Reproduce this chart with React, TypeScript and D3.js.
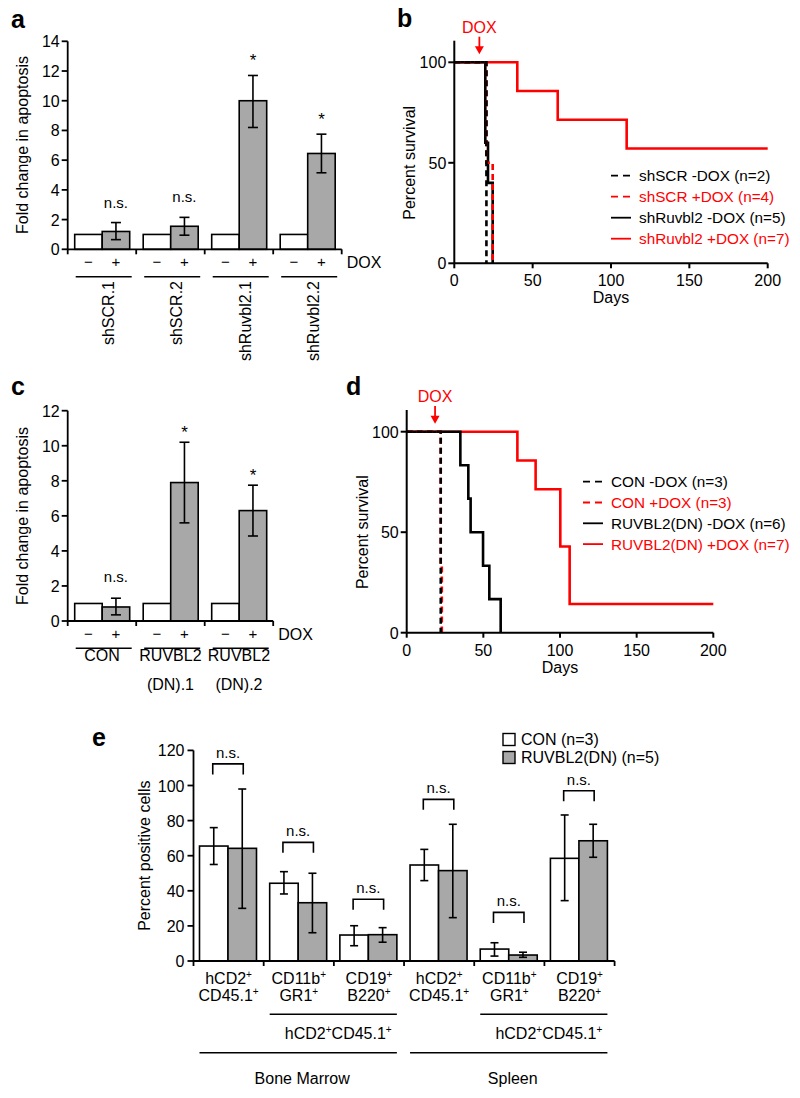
import React from 'react';
import * as d3 from 'd3';

const FONT = '"Liberation Sans", Arial, Helvetica, sans-serif';
const RED = '#ff0000';
const GRAY = '#a8a8a8';

// ---------- Panel a ----------
const aGroups = ['shSCR.1', 'shSCR.2', 'shRuvbl2.1', 'shRuvbl2.2'];
const aMinusDox = [1, 1, 1, 1];
const aPlusDox = [1.2, 1.55, 10.0, 6.45];
const aPlusLow = [0.65, 0.95, 8.2, 5.15];
const aPlusHigh = [1.8, 2.15, 11.7, 7.75];
const aSignif = ['n.s.', 'n.s.', '*', '*'];
const aYTicks = [0, 2, 4, 6, 8, 10, 12, 14];

// ---------- Panel c ----------
const cGroups = ['CON', 'RUVBL2|(DN).1', 'RUVBL2|(DN).2'];
const cMinusDox = [1, 1, 1];
const cPlusDox = [0.8, 7.9, 6.3];
const cPlusLow = [0.35, 5.6, 4.85];
const cPlusHigh = [1.3, 10.2, 7.75];
const cSignif = ['n.s.', '*', '*'];
const cYTicks = [0, 2, 4, 6, 8, 10, 12];

const doxLevels = ['\u2212', '+'];

// ---------- Panel b ----------
const bNames = ['shSCR -DOX (n=2)', 'shSCR +DOX (n=4)', 'shRuvbl2 -DOX (n=5)', 'shRuvbl2 +DOX (n=7)'];
const bColors = ['black', RED, 'black', RED];
const bDashed = [true, true, false, false];
const bShScrMinus: [number, number][] = [[0, 100], [20.5, 0]];
const bShScrPlus: [number, number][] = [[0, 100], [20.5, 50], [24.5, 0]];
const bShRuvMinus: [number, number][] = [[0, 100], [19.8, 60], [21.5, 40], [24.5, 0]];
const bShRuvPlus: [number, number][] = [[0, 100], [40.2, 85.7], [66, 71.4], [110, 57.1], [200, 57.1]];
const bDoxDay = 16;

// ---------- Panel d ----------
const dNames = ['CON -DOX (n=3)', 'CON +DOX (n=3)', 'RUVBL2(DN) -DOX (n=6)', 'RUVBL2(DN) +DOX (n=7)'];
const dColors = ['black', RED, 'black', RED];
const dDashed = [true, true, false, false];
const dConMinus: [number, number][] = [[0, 100], [22.2, 0]];
const dConPlus: [number, number][] = [[0, 100], [22.2, 33.3], [22.9, 0]];
const dDnMinus: [number, number][] = [[0, 100], [35, 83.3], [40.2, 66.7], [41.7, 50], [49.8, 33.3], [53.9, 16.7], [61.3, 0]];
const dDnPlus: [number, number][] = [[0, 100], [72.2, 85.7], [84.1, 71.4], [100.2, 42.9], [106.3, 14.3], [200, 14.3]];
const dDoxDay = 18.5;

const survXTicks = [0, 50, 100, 150, 200];
const survYTicks = [0, 50, 100];

// ---------- Panel e ----------
const eCatLine1 = ['hCD2+', 'CD11b+', 'CD19+', 'hCD2+', 'CD11b+', 'CD19+'];
const eCatLine2 = ['CD45.1+', 'GR1+', 'B220+', 'CD45.1+', 'GR1+', 'B220+'];
const eCon = [65.5, 44.3, 14.8, 54.7, 6.8, 58.5];
const eConLow = [55, 38.2, 8.7, 45.8, 2.8, 34.4];
const eConHigh = [76, 50.9, 20.1, 63.6, 10.4, 83.2];
const eDn = [64.2, 33.2, 15, 51.5, 3.4, 68.5];
const eDnLow = [30, 16.1, 10.7, 24.7, 2.1, 59.1];
const eDnHigh = [98, 50, 19, 77.9, 5, 77.9];
const eBracket = [112.3, 67.6, 35.2, 92.1, 27.7, 97];
const eYTicks = [0, 20, 40, 60, 80, 100, 120];
const eSeries = ['CON (n=3)', 'RUVBL2(DN) (n=5)'];
const eSubset = 'hCD2+CD45.1+';
const eTissues = ['Bone Marrow', 'Spleen'];

function Sup({ s }: { s: string }) {
  const parts = s.split(/(\+)/).filter((p) => p !== '');
  return (
    <>
      {parts.map((p, i) =>
        p === '+' ? (
          <tspan key={i} fontSize={10} dy={-6}>+</tspan>
        ) : (
          <tspan key={i} dy={i > 0 && parts[i - 1] === '+' ? 6 : 0}>{p}</tspan>
        )
      )}
    </>
  );
}

function ErrBar({ x, y1, y2, cap }: { x: number; y1: number; y2: number; cap: number }) {
  return (
    <g stroke="black" strokeWidth={1.6}>
      <line x1={x} x2={x} y1={y1} y2={y2} />
      <line x1={x - cap} x2={x + cap} y1={y1} y2={y1} />
      <line x1={x - cap} x2={x + cap} y1={y2} y2={y2} />
    </g>
  );
}

function FoldPanel(props: {
  groups: string[]; minus: number[]; plus: number[]; low: number[]; high: number[]; signif: string[];
  ticks: number[]; yMax: number; left: number; right: number; y0: number; yTop: number;
  starOff: number; nsOff: number; rotated: boolean; doxBaseline: number; lineY: number; labelY: number;
  title: string; titleY: number; yLabelCenter: number;
}) {
  const { groups, minus, plus, low, high, signif, ticks, yMax, left, right, y0, yTop } = props;
  const y = d3.scaleLinear().domain([0, yMax]).range([y0, yTop]);
  const x = d3.scaleBand<string>().domain(groups).range([left, right]);
  const sub = d3.scaleBand<string>().domain(doxLevels).range([7, 62]);
  const bw = sub.bandwidth();
  const boundaries = d3.range(groups.length + 1).map((i) => left + i * x.bandwidth());
  return (
    <g>
      <text x={11} y={props.titleY} fontSize={25} fontWeight="bold">{props.title}</text>
      <text transform={`translate(28,${props.yLabelCenter}) rotate(-90)`} textAnchor="middle" fontSize={16}>Fold change in apoptosis</text>
      {groups.map((g, i) => {
        const gx = x(g)!;
        const xm = gx + sub(doxLevels[0])!;
        const xp = gx + sub(doxLevels[1])!;
        const isStar = signif[i] === '*';
        return (
          <g key={g}>
            <rect x={xm} y={y(minus[i])} width={bw} height={y(0) - y(minus[i])} fill="white" stroke="black" strokeWidth={1.6} />
            <rect x={xp} y={y(plus[i])} width={bw} height={y(0) - y(plus[i])} fill={GRAY} stroke="black" strokeWidth={1.6} />
            <ErrBar x={xp + bw / 2} y1={y(high[i])} y2={y(low[i])} cap={5} />
            <text x={xp + bw / 2} y={y(high[i]) - (isStar ? props.starOff : props.nsOff)} textAnchor="middle" fontSize={isStar ? 17 : 15}>{signif[i]}</text>
            {doxLevels.map((d) => (
              <text key={d} x={gx + sub(d)! + bw / 2} y={props.doxBaseline} textAnchor="middle" fontSize={15}>{d}</text>
            ))}
            <line x1={xm + 1} x2={xp + bw + 2} y1={props.lineY} y2={props.lineY} stroke="black" strokeWidth={1.6} />
            {props.rotated ? (
              <text transform={`translate(${gx + x.bandwidth() / 2 + 12},${props.labelY}) rotate(-90)`} textAnchor="end" fontSize={16}>{g}</text>
            ) : (
              g.split('|').map((line, j) => (
                <text key={j} x={gx + x.bandwidth() / 2} y={props.labelY + j * 29} textAnchor="middle" fontSize={16}>{line}</text>
              ))
            )}
          </g>
        );
      })}
      <text x={right + 5} y={props.doxBaseline + 1} fontSize={16}>DOX</text>
      <g stroke="black" strokeWidth={1.8}>
        <line x1={left} x2={right} y1={y0} y2={y0} />
        {boundaries.map((b, i) => <line key={i} x1={b} x2={b} y1={y0} y2={y0 + 5} />)}
        <line x1={left} x2={left} y1={y0} y2={yTop} />
        {ticks.map((t) => <line key={t} x1={left - 6} x2={left} y1={y(t)} y2={y(t)} />)}
      </g>
      {ticks.map((t) => (
        <text key={t} x={left - 8} y={y(t) + 6} textAnchor="end" fontSize={16}>{t}</text>
      ))}
    </g>
  );
}

function SurvPanel(props: {
  curves: [number, number][][]; names: string[]; colors: string[]; dashed: boolean[]; order: number[];
  x0: number; x200: number; y0: number; y100: number; yTop: number; doxDay: number;
  legendX: number; legendY: number; legendStep: number; title: string; titleX: number; titleY: number;
  yLabelX: number;
}) {
  const x = d3.scaleLinear().domain([0, 200]).range([props.x0, props.x200]);
  const y = d3.scaleLinear().domain([0, 100]).range([props.y0, props.y100]);
  const line = d3.line<[number, number]>().x((d) => x(d[0])).y((d) => y(d[1])).curve(d3.curveStepAfter);
  const ax = x(props.doxDay);
  const arrowTop = props.yTop - 4;
  const arrowTip = props.y100 - 8;
  return (
    <g>
      <text x={props.titleX} y={props.titleY} fontSize={25} fontWeight="bold">{props.title}</text>
      <text transform={`translate(${props.yLabelX},${(props.y0 + props.y100) / 2}) rotate(-90)`} textAnchor="middle" fontSize={16}>Percent survival</text>
      {props.order.map((i) => (
        <path key={i} d={line(props.curves[i]) || ''} fill="none" stroke={props.colors[i]} strokeWidth={2.6}
          strokeDasharray={props.dashed[i] ? '6,4' : undefined} />
      ))}
      <g stroke="black" strokeWidth={2}>
        <line x1={props.x0} x2={props.x200} y1={props.y0} y2={props.y0} />
        <line x1={props.x0} x2={props.x0} y1={props.y0} y2={props.yTop} />
        {survXTicks.map((t) => <line key={t} x1={x(t)} x2={x(t)} y1={props.y0} y2={props.y0 + 5} />)}
        {survYTicks.map((t) => <line key={t} x1={props.x0 - 6} x2={props.x0} y1={y(t)} y2={y(t)} />)}
      </g>
      {survXTicks.map((t) => (
        <text key={t} x={x(t)} y={props.y0 + 23} textAnchor="middle" fontSize={16}>{t}</text>
      ))}
      {survYTicks.map((t) => (
        <text key={t} x={props.x0 - 8} y={y(t) + 6} textAnchor="end" fontSize={16}>{t}</text>
      ))}
      <text x={(props.x0 + props.x200) / 2} y={props.y0 + 40} textAnchor="middle" fontSize={16}>Days</text>
      <text x={ax} y={props.yTop - 8} textAnchor="middle" fontSize={16} fill={RED}>DOX</text>
      <line x1={ax} x2={ax} y1={arrowTop} y2={arrowTip - 6} stroke={RED} strokeWidth={1.8} />
      <path d={`M${ax - 4.5},${arrowTip - 8} L${ax + 4.5},${arrowTip - 8} L${ax},${arrowTip} Z`} fill={RED} />
      {props.names.map((n, i) => {
        const ly = props.legendY + i * props.legendStep;
        return (
          <g key={n}>
            <line x1={props.legendX} x2={props.legendX + 20} y1={ly} y2={ly} stroke={props.colors[i]} strokeWidth={1.8}
              strokeDasharray={props.dashed[i] ? '7,5' : undefined} />
            <text x={props.legendX + 28} y={ly + 5.5} fontSize={15.3} fill={props.colors[i]}>{n}</text>
          </g>
        );
      })}
    </g>
  );
}

function PanelE() {
  const left = 193.5;
  const right = 614.6;
  const y0 = 961;
  const y = d3.scaleLinear().domain([0, 120]).range([y0, 750.4]);
  const idx = d3.range(eCon.length).map(String);
  const x = d3.scaleBand<string>().domain(idx).range([left, right]);
  const sub = d3.scaleBand<string>().domain(['con', 'dn']).range([6, 63]);
  const bw = sub.bandwidth();
  const boundaries = d3.range(eCon.length + 1).map((i) => left + i * x.bandwidth());
  const groupsOf = [[0, 2], [3, 5]];
  const subsetOf = [[1, 2], [4, 5]];
  return (
    <g>
      <text x={92} y={746} fontSize={25} fontWeight="bold">e</text>
      <text transform={`translate(150,${(y0 + y(120)) / 2}) rotate(-90)`} textAnchor="middle" fontSize={16}>Percent positive cells</text>
      {idx.map((k, i) => {
        const gx = x(k)!;
        const xc = gx + sub('con')!;
        const xd = gx + sub('dn')!;
        const bt = y(eBracket[i]);
        return (
          <g key={k}>
            <rect x={xc} y={y(eCon[i])} width={bw} height={y0 - y(eCon[i])} fill="white" stroke="black" strokeWidth={1.6} />
            <rect x={xd} y={y(eDn[i])} width={bw} height={y0 - y(eDn[i])} fill={GRAY} stroke="black" strokeWidth={1.6} />
            <ErrBar x={xc + bw / 2} y1={y(eConHigh[i])} y2={y(eConLow[i])} cap={4} />
            <ErrBar x={xd + bw / 2} y1={y(eDnHigh[i])} y2={y(eDnLow[i])} cap={4} />
            <path d={`M${xc + bw / 2 - 1},${bt + 10.5} V${bt} H${xd + bw / 2 + 1} V${bt + 10.5}`} fill="none" stroke="black" strokeWidth={1.6} />
            <text x={(xc + xd + bw) / 2} y={bt - 6} textAnchor="middle" fontSize={15}>n.s.</text>
            <text x={gx + x.bandwidth() / 2} y={984} textAnchor="middle" fontSize={16}><Sup s={eCatLine1[i]} /></text>
            <text x={gx + x.bandwidth() / 2} y={1001} textAnchor="middle" fontSize={16}><Sup s={eCatLine2[i]} /></text>
          </g>
        );
      })}
      {subsetOf.map(([a, b], j) => {
        const x1 = x(String(a))! + sub('con')!;
        const x2 = x(String(b))! + sub('dn')! + bw;
        return (
          <g key={j}>
            <line x1={x1} x2={x2} y1={1014.3} y2={1014.3} stroke="black" strokeWidth={1.6} />
            <text x={(x1 + x2) / 2 + 5} y={1039} textAnchor="middle" fontSize={16}><Sup s={eSubset} /></text>
          </g>
        );
      })}
      {groupsOf.map(([a, b], j) => {
        const x1 = x(String(a))! + sub('con')!;
        const x2 = x(String(b))! + sub('dn')! + bw;
        return (
          <g key={j}>
            <line x1={x1} x2={x2} y1={1052.7} y2={1052.7} stroke="black" strokeWidth={1.6} />
            <text x={(x1 + x2) / 2 + 4} y={1084} textAnchor="middle" fontSize={16}>{eTissues[j]}</text>
          </g>
        );
      })}
      <g stroke="black" strokeWidth={1.8}>
        <line x1={left} x2={right} y1={y0} y2={y0} />
        {boundaries.map((b, i) => <line key={i} x1={b} x2={b} y1={y0} y2={y0 + 5} />)}
        <line x1={left} x2={left} y1={y0} y2={y(120)} />
        {eYTicks.map((t) => <line key={t} x1={left - 6} x2={left} y1={y(t)} y2={y(t)} />)}
      </g>
      {eYTicks.map((t) => (
        <text key={t} x={left - 9} y={y(t) + 6} textAnchor="end" fontSize={16}>{t}</text>
      ))}
      {eSeries.map((s, i) => (
        <g key={s}>
          <rect x={503} y={733.5 + i * 18} width={12} height={12} fill={i === 0 ? 'white' : GRAY} stroke="black" strokeWidth={1.4} />
          <text x={521} y={745 + i * 18} fontSize={16}>{s}</text>
        </g>
      ))}
    </g>
  );
}

export default function App() {
  return (
    <svg width={800} height={1098} viewBox="0 0 800 1098" style={{ position: 'absolute', left: 0, top: 0, background: 'white' }}
      fontFamily={FONT}>
      <rect width={800} height={1098} fill="white" />
      <FoldPanel groups={aGroups} minus={aMinusDox} plus={aPlusDox} low={aPlusLow} high={aPlusHigh} signif={aSignif}
        ticks={aYTicks} yMax={14} left={67.7} right={341.7} y0={249.3} yTop={41.3} starOff={9} nsOff={15}
        rotated={true} doxBaseline={267} lineY={276.7} labelY={281} title="a" titleY={28} yLabelCenter={145} />
      <SurvPanel curves={[bShScrMinus, bShScrPlus, bShRuvMinus, bShRuvPlus]} names={bNames} colors={bColors} dashed={bDashed}
        order={[3, 2, 1, 0]} x0={454.3} x200={767.7} y0={263.3} y100={62.3} yTop={40.7} doxDay={bDoxDay}
        legendX={611} legendY={175.7} legendStep={21} title="b" titleX={397} titleY={27} yLabelX={415} />
      <FoldPanel groups={cGroups} minus={cMinusDox} plus={cPlusDox} low={cPlusLow} high={cPlusHigh} signif={cSignif}
        ticks={cYTicks} yMax={12} left={67.7} right={273.2} y0={621} yTop={410.7} starOff={4} nsOff={16}
        rotated={false} doxBaseline={639} lineY={648.3} labelY={661} title="c" titleY={395} yLabelCenter={516} />
      <SurvPanel curves={[dConMinus, dConPlus, dDnMinus, dDnPlus]} names={dNames} colors={dColors} dashed={dDashed}
        order={[3, 2, 1, 0]} x0={406.7} x200={713.3} y0={632.7} y100={431.7} yTop={410} doxDay={dDoxDay}
        legendX={583} legendY={481.7} legendStep={20.8} title="d" titleX={346} titleY={395} yLabelX={368} />
      <PanelE />
    </svg>
  );
}
